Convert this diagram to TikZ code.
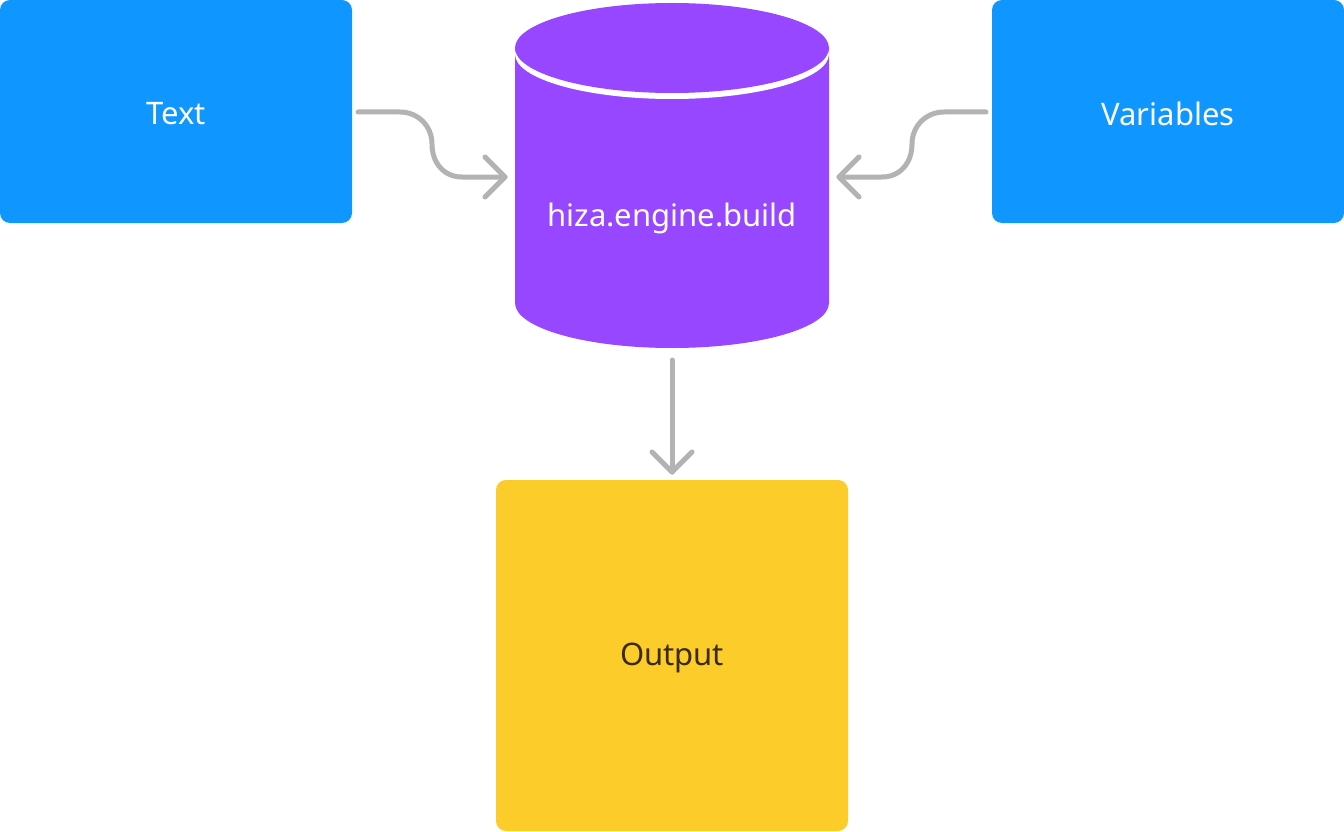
\documentclass[tikz,border=0pt]{standalone}
\usepackage{fontspec}
\setmainfont{Noto Sans}
\definecolor{boxblue}{HTML}{0F97FF}
\definecolor{cylpurple}{HTML}{9747FF}
\definecolor{outyellow}{HTML}{FCCC2A}
\definecolor{arrowgray}{HTML}{B3B3B3}
\definecolor{outtext}{HTML}{3A2A00}
\begin{document}
\begin{tikzpicture}[x=1pt,y=-1pt,
  lbl/.style={font=\fontsize{31}{36}\selectfont, inner sep=0pt},
  bluebox/.style={fill=boxblue, rounded corners=10pt, minimum width=352pt, minimum height=223pt, inner sep=0pt},
  yellowbox/.style={fill=outyellow, rounded corners=10pt, minimum width=352pt, minimum height=351pt, inner sep=0pt},
  conn/.style={draw=arrowgray, line width=5pt, line cap=round, line join=round},
  head/.style={draw=arrowgray, line width=5pt, line cap=round, line join=round}
]
\useasboundingbox (0,0) rectangle (1344,832);
\fill[white] (0,0) rectangle (1344,832);
% boxes
\node[bluebox] (text) at (176,111.5) {};
\node[bluebox] (vars) at (1168,111.5) {};
\node[yellowbox] (out) at (672,655.5) {};
\node[lbl, text=white] (textl) at (176,114) {Text};
\node[lbl, text=white] (varsl) at (1168,114) {Variables};
\node[lbl, text=outtext] (outl) at (672,658) {Output};
% cylinder
\fill[cylpurple] (515,48) -- (515,303) arc[start angle=180, end angle=0, x radius=157, y radius=45] -- (829,48) -- cycle;
\begin{scope}
\clip (515,48) rectangle (829,120);
\fill[white] (672,54) ellipse[x radius=157, y radius=45];
\end{scope}
\fill[cylpurple] (672,48) ellipse[x radius=157, y radius=45];
\node[lbl, text=white] (cyl) at (672,218) {hiza.engine.build};
\coordinate (cyltop) at (672,48);
\coordinate (cylbot) at (672,348);
% connectors
\coordinate (t1) at (358,112);
\coordinate (t2) at (505,177);
\draw[conn] (t1) -- (400,112) .. controls (418,112) and (432,126) .. (432,144)
  .. controls (432,163) and (444,177) .. (462,177) -- (t2);
\draw[head] (485,157) -- (t2) -- (485,197);
\coordinate (v1) at (986,112);
\coordinate (v2) at (839,177);
\draw[conn] (v1) -- (944,112) .. controls (926,112) and (912,126) .. (912,144)
  .. controls (912,163) and (900,177) .. (882,177) -- (v2);
\draw[head] (859,157) -- (v2) -- (859,197);
\coordinate (d1) at (672,360);
\coordinate (d2) at (672,472);
\draw[conn] (d1) -- (d2);
\draw[head] (652,452) -- (d2) -- (692,452);
\end{tikzpicture}
\end{document}
